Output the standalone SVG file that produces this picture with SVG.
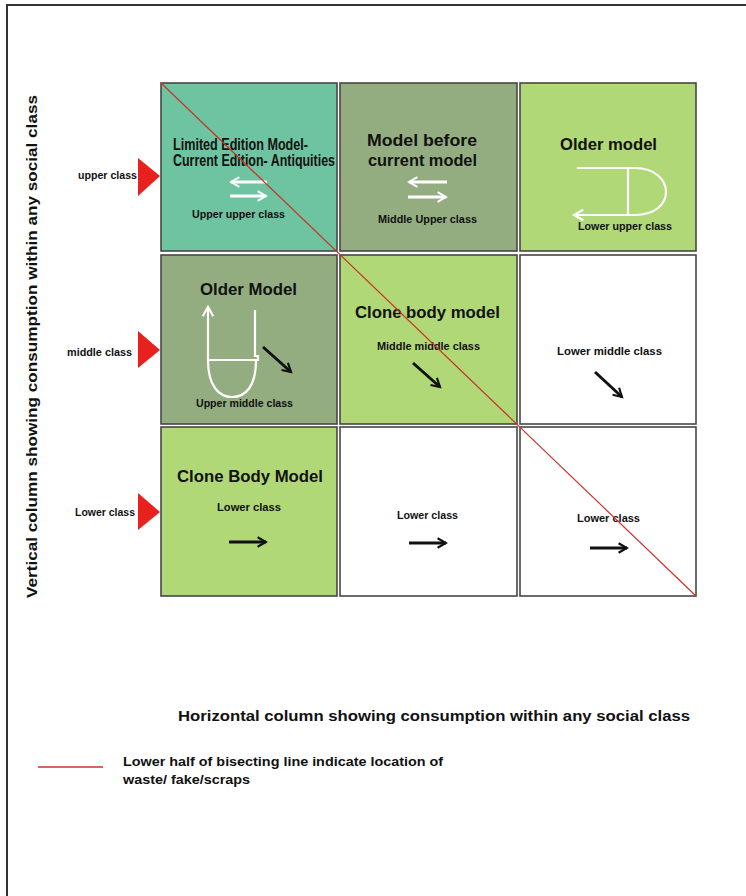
<svg xmlns="http://www.w3.org/2000/svg" width="746" height="896" viewBox="0 0 746 896">
<defs>
<marker id="wh" viewBox="0 0 10 10" refX="8" refY="5" markerWidth="4" markerHeight="4" orient="auto" markerUnits="strokeWidth">
<path d="M1,1 L8,5 L1,9" fill="none" stroke="#ffffff" stroke-width="1.6"/>
</marker>
<marker id="bk" viewBox="0 0 10 10" refX="8" refY="5" markerWidth="4" markerHeight="4" orient="auto" markerUnits="strokeWidth">
<path d="M1,1 L8,5 L1,9" fill="none" stroke="#111111" stroke-width="1.8"/>
</marker>
<marker id="wt" viewBox="0 0 10 10" refX="8" refY="5" markerWidth="6" markerHeight="6" orient="auto" markerUnits="strokeWidth">
<path d="M1,1 L8,5 L1,9" fill="none" stroke="#ffffff" stroke-width="1.6"/>
</marker>
</defs>
<style>
.cell{stroke:#474747;stroke-width:1.6}
.teal{fill:#6ec3a0}
.grey{fill:#94ad80}
.lime{fill:#b1d877}
.white{fill:#ffffff}
text{font-family:"Liberation Sans",Arial,sans-serif;fill:#111111}
.t{font-size:16px;font-weight:bold}
.s{font-size:10px;font-weight:bold}
.ax{font-size:15px;font-weight:bold}
.warr{stroke:#ffffff;stroke-width:3;fill:none;marker-end:url(#wh)}
.barr{stroke:#111111;stroke-width:3;fill:none;marker-end:url(#bk)}
.wline{stroke:#ffffff;stroke-width:2.2;fill:none}
.tri{fill:#e8201e}
</style>
<rect x="0" y="0" width="746" height="896" fill="#ffffff"/>
<path d="M7,896 L7,5 L746,5" fill="none" stroke="#333333" stroke-width="2"/>

<g id="cell-upper-upper">
<rect class="cell teal" x="161" y="83" width="176" height="168"/>
<text class="t" x="173" y="150" font-size="12" textLength="135" lengthAdjust="spacingAndGlyphs">Limited Edition Model-</text>
<text class="t" x="173" y="166" font-size="11.5" textLength="162" lengthAdjust="spacingAndGlyphs">Current Edition- Antiquities</text>
<line class="warr" x1="267" y1="182" x2="231" y2="182"/>
<line class="warr" x1="230" y1="196" x2="266" y2="196"/>
<text class="s" x="192" y="218" textLength="93" lengthAdjust="spacingAndGlyphs">Upper upper class</text>
</g>

<g id="cell-middle-upper">
<rect class="cell grey" x="340" y="83" width="177" height="168"/>
<text class="t" x="367" y="146" font-size="15.5" textLength="110" lengthAdjust="spacingAndGlyphs">Model before</text>
<text class="t" x="368" y="166" font-size="15.5" textLength="109" lengthAdjust="spacingAndGlyphs">current model</text>
<line class="warr" x1="447" y1="182" x2="409" y2="182"/>
<line class="warr" x1="408" y1="197" x2="446" y2="197"/>
<text class="s" x="378" y="223" textLength="99" lengthAdjust="spacingAndGlyphs">Middle Upper class</text>
</g>

<g id="cell-lower-upper">
<rect class="cell lime" x="520" y="83" width="176" height="168"/>
<text class="t" x="560" y="150" textLength="97" lengthAdjust="spacingAndGlyphs">Older model</text>
<path class="wline" d="M577,168 L635,168 C655,168 666,180 666,192 C666,204 655,215 635,215 L574,215" marker-end="url(#wt)"/>
<line class="wline" x1="628" y1="168" x2="628" y2="215" stroke-width="1.5"/>
<text class="s" x="578" y="230" textLength="94" lengthAdjust="spacingAndGlyphs">Lower upper class</text>
</g>

<g id="cell-upper-middle">
<rect class="cell grey" x="161" y="255" width="176" height="169"/>
<text class="t" x="200" y="295" textLength="97" lengthAdjust="spacingAndGlyphs">Older Model</text>
<path class="wline" d="M208,360 L208,307" marker-end="url(#wt)"/>
<path class="wline" d="M255,310 L255,356 L258,356 L258,360 L208,360"/>
<path class="wline" d="M208,360 C208,386 219,397 232,397 C246,397 256,386 256,360"/>
<line class="barr" x1="263" y1="347" x2="291" y2="372"/>
<text class="s" x="196" y="407" textLength="97" lengthAdjust="spacingAndGlyphs">Upper middle class</text>
</g>

<g id="cell-middle-middle">
<rect class="cell lime" x="340" y="255" width="177" height="169"/>
<text class="t" x="355" y="318" textLength="145" lengthAdjust="spacingAndGlyphs">Clone body model</text>
<text class="s" x="377" y="350" textLength="103" lengthAdjust="spacingAndGlyphs">Middle middle  class</text>
<line class="barr" x1="413" y1="363" x2="440" y2="387"/>
</g>

<g id="cell-lower-middle">
<rect class="cell white" x="520" y="255" width="176" height="169"/>
<text class="s" x="557" y="355" textLength="105" lengthAdjust="spacingAndGlyphs">Lower middle  class</text>
<line class="barr" x1="595" y1="372" x2="622" y2="397"/>
</g>

<g id="cell-upper-lower">
<rect class="cell lime" x="161" y="427" width="176" height="169"/>
<text class="t" x="177" y="482" textLength="146" lengthAdjust="spacingAndGlyphs">Clone Body Model</text>
<text class="s" x="217" y="511" textLength="64" lengthAdjust="spacingAndGlyphs">Lower  class</text>
<line class="barr" x1="229" y1="542" x2="266" y2="542"/>
</g>

<g id="cell-middle-lower">
<rect class="cell white" x="340" y="427" width="177" height="169"/>
<text class="s" x="397" y="519" textLength="61" lengthAdjust="spacingAndGlyphs">Lower class</text>
<line class="barr" x1="409" y1="543" x2="446" y2="543"/>
</g>

<g id="cell-lower-lower">
<rect class="cell white" x="520" y="427" width="176" height="169"/>
<text class="s" x="577" y="522" textLength="63" lengthAdjust="spacingAndGlyphs">Lower  class</text>
<line class="barr" x1="590" y1="548" x2="627" y2="548"/>
</g>

<g id="row-upper">
<polygon class="tri" points="138,158 160,176 138,196"/>
<text class="s" x="137" y="179" text-anchor="end" font-size="9" textLength="59" lengthAdjust="spacingAndGlyphs">upper class</text>
</g>
<g id="row-middle">
<polygon class="tri" points="138,331 160,350 138,368"/>
<text class="s" x="132" y="356" text-anchor="end" font-size="9" textLength="65" lengthAdjust="spacingAndGlyphs">middle class</text>
</g>
<g id="row-lower">
<polygon class="tri" points="138,493 160,512 138,530"/>
<text class="s" x="135" y="516" text-anchor="end" font-size="9" textLength="60" lengthAdjust="spacingAndGlyphs">Lower class</text>
</g>

<g id="connectors">
<line x1="161" y1="83" x2="696" y2="596" stroke="#c8332a" stroke-width="1.2"/>
</g>

<g id="axis-vertical">
<text class="ax" transform="translate(37,598) rotate(-90)" x="0" y="0" textLength="503" lengthAdjust="spacingAndGlyphs">Vertical column showing consumption within any social class</text>
</g>
<g id="axis-horizontal">
<text class="ax" x="178" y="721" textLength="512" lengthAdjust="spacingAndGlyphs">Horizontal column showing consumption within any social class</text>
</g>

<g id="legend">
<line x1="38" y1="767" x2="103" y2="767" stroke="#c8332a" stroke-width="1.3"/>
<text x="123" y="766" font-size="12" font-weight="bold" textLength="320" lengthAdjust="spacingAndGlyphs">Lower half of bisecting line indicate location of</text>
<text x="123" y="784" font-size="12" font-weight="bold" textLength="127" lengthAdjust="spacingAndGlyphs">waste/ fake/scraps</text>
</g>
</svg>
